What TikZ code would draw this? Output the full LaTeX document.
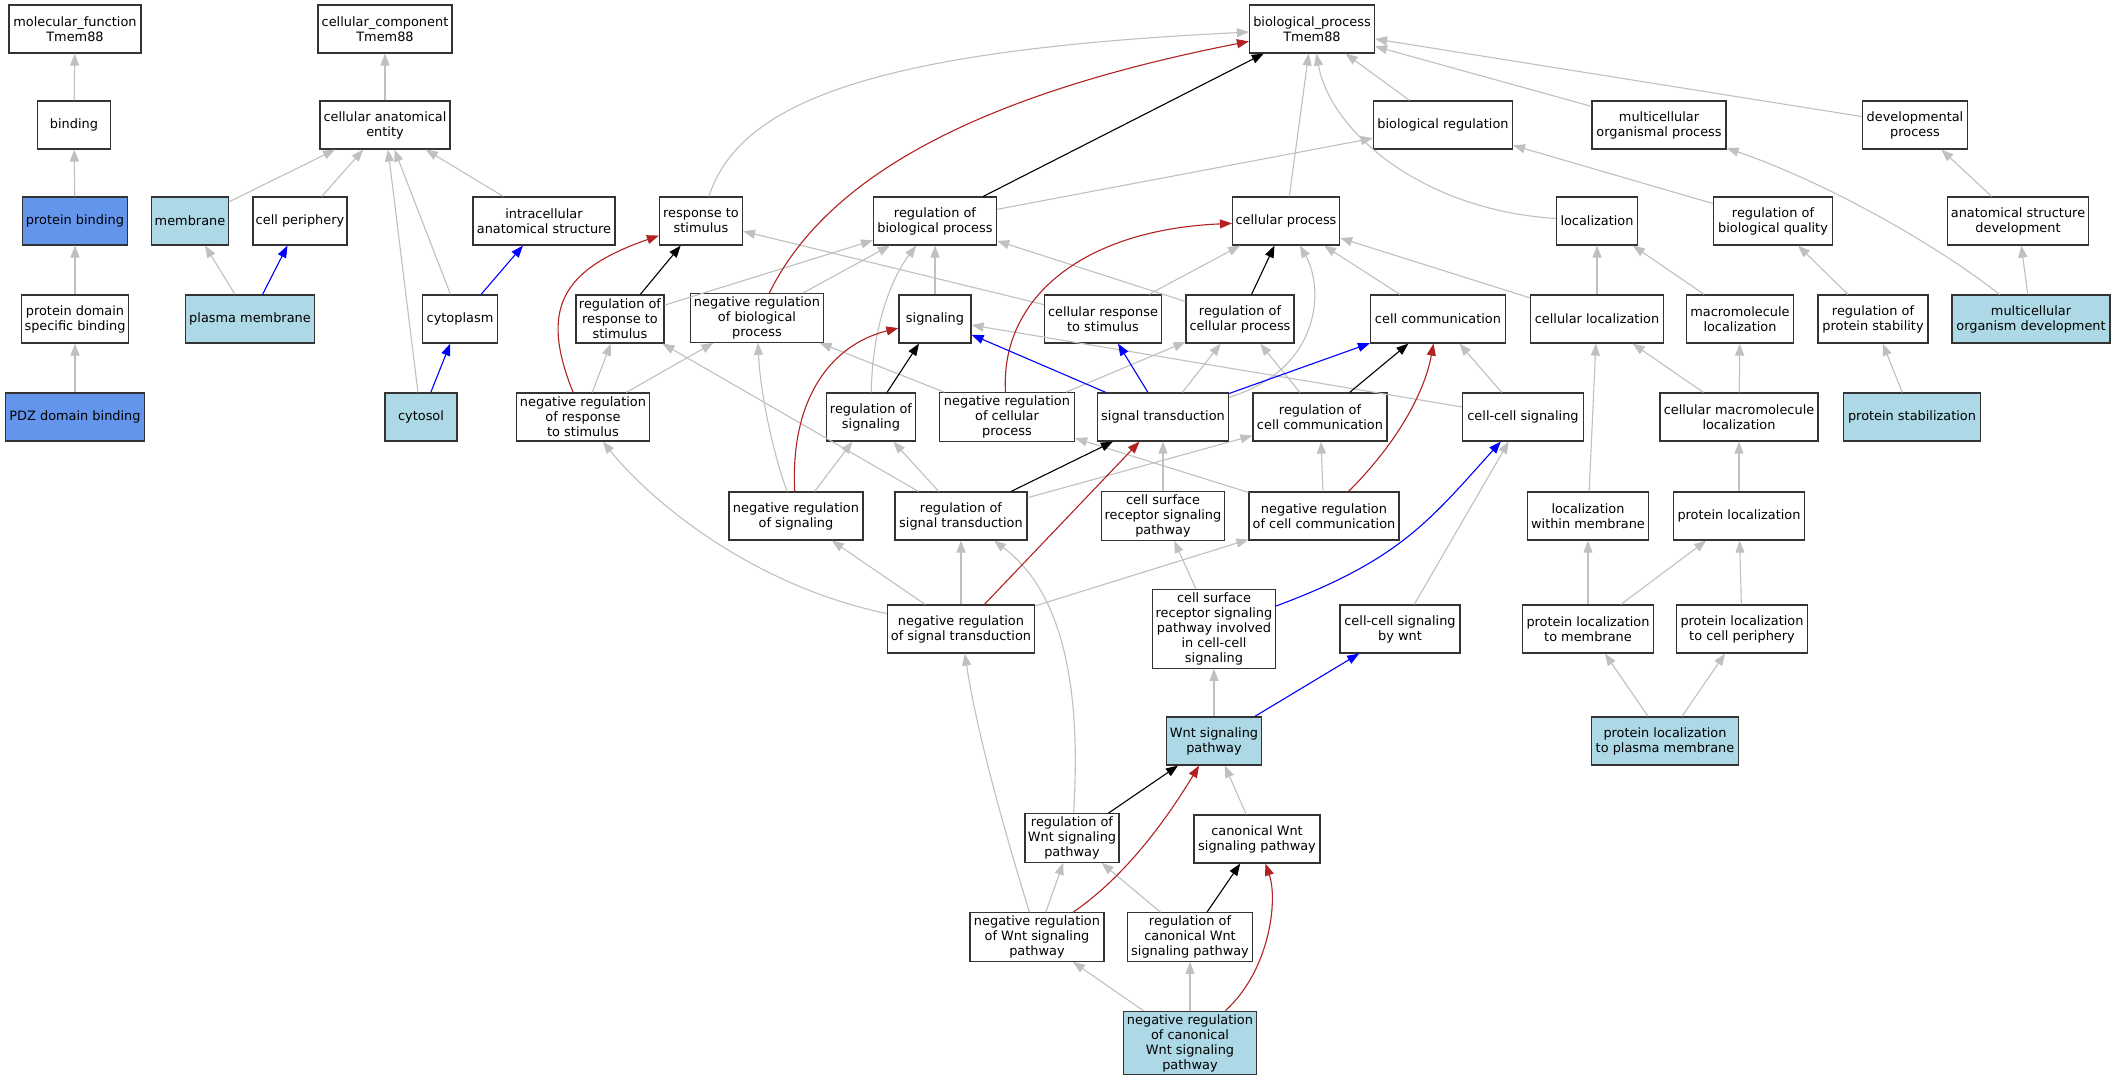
\documentclass[tikz,border=0pt]{standalone}
\usepackage{fontspec}
\setmainfont{DejaVu Sans}
\usetikzlibrary{arrows.meta}
\definecolor{hitblue}{HTML}{ADD8E6}
\definecolor{mfblue}{HTML}{6495ED}
\definecolor{edgegray}{HTML}{C0C0C0}
\definecolor{edgered}{HTML}{B22222}
\definecolor{edgeblue}{HTML}{0000FF}
\tikzset{
  term/.style={draw=black!80, line width=1.2pt, rectangle, align=center,
    inner xsep=2pt, inner ysep=3pt, minimum height=48pt,
    font=\fontsize{12.9pt}{15pt}\selectfont},
  bw/.style={minimum width=#1pt},
  hit/.style={fill=hitblue},
  mfhit/.style={fill=mfblue},
  isa/.style={color=edgegray, line width=1.1pt, -{Triangle[length=12pt,width=9pt]}},
  regulates/.style={color=black, line width=1.1pt, -{Triangle[length=12pt,width=9pt]}},
  negreg/.style={color=edgered, line width=1.1pt, -{Triangle[length=12pt,width=9pt]}},
  partof/.style={color=edgeblue, line width=1.1pt, -{Triangle[length=12pt,width=9pt]}}
}
\begin{document}
\begin{tikzpicture}[x=1pt,y=-1pt]
      \path[use as bounding box, fill=white] (0,0) rectangle (2113,1080);
      \draw
        (75,29) node[term,bw=132] (mf){molecular\_function\\Tmem88}
        (74,125) node[term,bw=73] (binding){binding}
        (75,221) node[term,bw=105,mfhit] (pbind){protein binding}
        (75,319) node[term,bw=107] (pdsb){protein domain\\specific binding}
        (75,417) node[term,bw=139,mfhit] (pdz){PDZ domain binding}
        (385,29) node[term,bw=134] (cc){cellular\_component\\Tmem88}
        (385,125) node[term,bw=130] (cae){cellular anatomical\\entity}
        (190,221) node[term,bw=77,hit] (membrane){membrane}
        (300,221) node[term,bw=94] (cperi){cell periphery}
        (544,221) node[term,bw=142] (ias){intracellular\\anatomical structure}
        (250,319) node[term,bw=129,hit] (pm){plasma membrane}
        (460,319) node[term,bw=75] (cytoplasm){cytoplasm}
        (421,417) node[term,bw=72,hit] (cytosol){cytosol}
        (1312,29) node[term,bw=125] (bp){biological\_process\\Tmem88}
        (1443,125) node[term,bw=139] (breg){biological regulation}
        (1659,125) node[term,bw=134] (mop){multicellular\\organismal process}
        (1915,125) node[term,bw=105] (devp){developmental\\process}
        (701,221) node[term,bw=83] (resp){response to\\stimulus}
        (935,221) node[term,bw=123] (rbp){regulation of\\biological process}
        (1286,221) node[term,bw=107] (cellp){cellular process}
        (1597,221) node[term,bw=81] (loc){localization}
        (1773,221) node[term,bw=119] (rbq){regulation of\\biological quality}
        (2018,221) node[term,bw=141] (asd){anatomical structure\\development}
        (620,319) node[term,bw=88] (rrs){regulation of\\response to\\stimulus}
        (757,318) node[term,bw=133] (nrbp){negative regulation\\of biological\\process}
        (935,319) node[term,bw=72] (signaling){signaling}
        (1103,319) node[term,bw=117] (crs){cellular response\\to stimulus}
        (1240,319) node[term,bw=108] (rcp){regulation of\\cellular process}
        (1438,319) node[term,bw=135] (ccom){cell communication}
        (1597,319) node[term,bw=133] (cloc){cellular localization}
        (1740,319) node[term,bw=107] (mloc){macromolecule\\localization}
        (1873,319) node[term,bw=110] (rps){regulation of\\protein stability}
        (2031,319) node[term,bw=158,hit] (mod){multicellular\\organism development}
        (583,417) node[term,bw=133] (nrrs){negative regulation\\of response\\to stimulus}
        (871,417) node[term,bw=89] (rsig){regulation of\\signaling}
        (1007,417) node[term,bw=135] (nrcp){negative regulation\\of cellular\\process}
        (1163,417) node[term,bw=131] (st){signal transduction}
        (1320,417) node[term,bw=134] (rcc){regulation of\\cell communication}
        (1523,417) node[term,bw=121] (ccs){cell-cell signaling}
        (1739,417) node[term,bw=158] (cmloc){cellular macromolecule\\localization}
        (1912,417) node[term,bw=137,hit] (pstab){protein stabilization}
        (796,516) node[term,bw=134] (nrsig){negative regulation\\of signaling}
        (961,516) node[term,bw=132] (rst){regulation of\\signal transduction}
        (1163,516) node[term,bw=123] (csrsp){cell surface\\receptor signaling\\pathway}
        (1324,516) node[term,bw=150] (nrcc){negative regulation\\of cell communication}
        (1588,516) node[term,bw=121] (lwm){localization\\within membrane}
        (1739,516) node[term,bw=131] (ploc){protein localization}
        (961,629) node[term,bw=147] (nrst){negative regulation\\of signal transduction}
        (1214,629) node[term,bw=123] (csrspc){cell surface\\receptor signaling\\pathway involved\\in cell-cell\\signaling}
        (1400,629) node[term,bw=120] (ccsw){cell-cell signaling\\by wnt}
        (1588,629) node[term,bw=131] (plm){protein localization\\to membrane}
        (1742,629) node[term,bw=131] (plcp){protein localization\\to cell periphery}
        (1214,741) node[term,bw=95,hit] (wnt){Wnt signaling\\pathway}
        (1665,741) node[term,bw=147,hit] (plpm){protein localization\\to plasma membrane}
        (1072,838) node[term,bw=94] (rwnt){regulation of\\Wnt signaling\\pathway}
        (1257,839) node[term,bw=126] (cwnt){canonical Wnt\\signaling pathway}
        (1037,937) node[term,bw=134] (nrwnt){negative regulation\\of Wnt signaling\\pathway}
        (1190,937) node[term,bw=125] (rcwnt){regulation of\\canonical Wnt\\signaling pathway}
        (1190,1043) node[term,bw=133,hit] (nrcwnt){negative regulation\\of canonical\\Wnt signaling\\pathway};
      \begin{scope}[isa]
        \draw (binding) to (mf);
        \draw (pbind) to (binding);
        \draw (pdsb) to (pbind);
        \draw (pdz) to (pdsb);
        \draw (cae) to (cc);
        \draw (membrane) to (cae);
        \draw (cperi) to (cae);
        \draw (ias) to (cae);
        \draw (cytoplasm) to (cae);
        \draw (cytosol) to (cae);
        \draw (pm) to (membrane);
        \draw (resp) .. controls (740,100) and (880,50) .. (bp);
        \draw (cellp) to (bp);
        \draw (breg) to (bp);
        \draw (loc) .. controls (1420,210) and (1330,130) .. (bp);
        \draw (mop) to (bp);
        \draw (devp) to (bp);
        \draw (rbp) to (breg);
        \draw (rbq) to (breg);
        \draw (mod) .. controls (1930,240) and (1820,180) .. (mop);
        \draw (asd) to (devp);
        \draw (mod) to (asd);
        \draw (cloc) to (loc);
        \draw (mloc) to (loc);
        \draw (rps) to (rbq);
        \draw (pstab) to (rps);
        \draw (cmloc) to (cloc);
        \draw (cmloc) to (mloc);
        \draw (cloc) to (cellp);
        \draw (ccom) to (cellp);
        \draw (crs) to (cellp);
        \draw (st) .. controls (1320,370) and (1325,290) .. (cellp);
        \draw (crs) to (resp);
        \draw (rrs) to (rbp);
        \draw (nrbp) to (rbp);
        \draw (rsig) .. controls (872,330) and (890,280) .. (rbp);
        \draw (signaling) to (rbp);
        \draw (rcp) to (rbp);
        \draw (nrcp) to (nrbp);
        \draw (nrcp) to (rcp);
        \draw (st) to (rcp);
        \draw (rcc) to (rcp);
        \draw (nrrs) to (rrs);
        \draw (nrrs) to (nrbp);
        \draw (ccs) to (signaling);
        \draw (ccs) to (ccom);
        \draw (csrsp) to (st);
        \draw (nrcc) to (nrcp);
        \draw (rst) to (rcc);
        \draw (nrcc) to (rcc);
        \draw (rst) to (rsig);
        \draw (rst) to (rrs);
        \draw (nrsig) to (rsig);
        \draw (nrsig) .. controls (772,450) and (760,390) .. (nrbp);
        \draw (nrst) .. controls (750,585) and (650,500) .. (nrrs);
        \draw (nrst) to (nrsig);
        \draw (nrst) to (rst);
        \draw (nrst) to (nrcc);
        \draw (rwnt) .. controls (1082,680) and (1060,590) .. (rst);
        \draw (nrwnt) .. controls (995,800) and (975,720) .. (nrst);
        \draw (csrspc) to (csrsp);
        \draw (ccsw) to (ccs);
        \draw (wnt) to (csrspc);
        \draw (cwnt) to (wnt);
        \draw (nrwnt) to (rwnt);
        \draw (rcwnt) to (rwnt);
        \draw (nrcwnt) to (nrwnt);
        \draw (nrcwnt) to (rcwnt);
        \draw (ploc) to (cmloc);
        \draw (lwm) to (cloc);
        \draw (plm) to (lwm);
        \draw (plm) to (ploc);
        \draw (plcp) to (ploc);
        \draw (plpm) to (plm);
        \draw (plpm) to (plcp);
      \end{scope}
      \begin{scope}[regulates]
        \draw (rbp) to (bp);
        \draw (rrs) to (resp);
        \draw (rcp) to (cellp);
        \draw (rsig) to (signaling);
        \draw (rcc) to (ccom);
        \draw (rst) to (st);
        \draw (rwnt) to (wnt);
        \draw (rcwnt) to (cwnt);
      \end{scope}
      \begin{scope}[negreg]
        \draw (nrbp) .. controls (820,190) and (950,100) .. (bp);
        \draw (nrcp) .. controls (1000,300) and (1080,230) .. (cellp);
        \draw (nrrs) .. controls (540,310) and (560,270) .. (resp);
        \draw (nrsig) .. controls (790,400) and (830,345) .. (signaling);
        \draw (nrcc) .. controls (1400,440) and (1425,390) .. (ccom);
        \draw (nrst) to (st);
        \draw (nrwnt) .. controls (1120,880) and (1160,830) .. (wnt);
        \draw (nrcwnt) .. controls (1270,970) and (1278,900) .. (cwnt);
      \end{scope}
      \begin{scope}[partof]
        \draw (pm) to (cperi);
        \draw (cytoplasm) to (ias);
        \draw (cytosol) to (cytoplasm);
        \draw (st) to (signaling);
        \draw (st) to (crs);
        \draw (st) to (ccom);
        \draw (csrspc) .. controls (1400,560) and (1430,520) .. (ccs);
        \draw (wnt) to (ccsw);
      \end{scope}
    \end{tikzpicture}
\end{document}
